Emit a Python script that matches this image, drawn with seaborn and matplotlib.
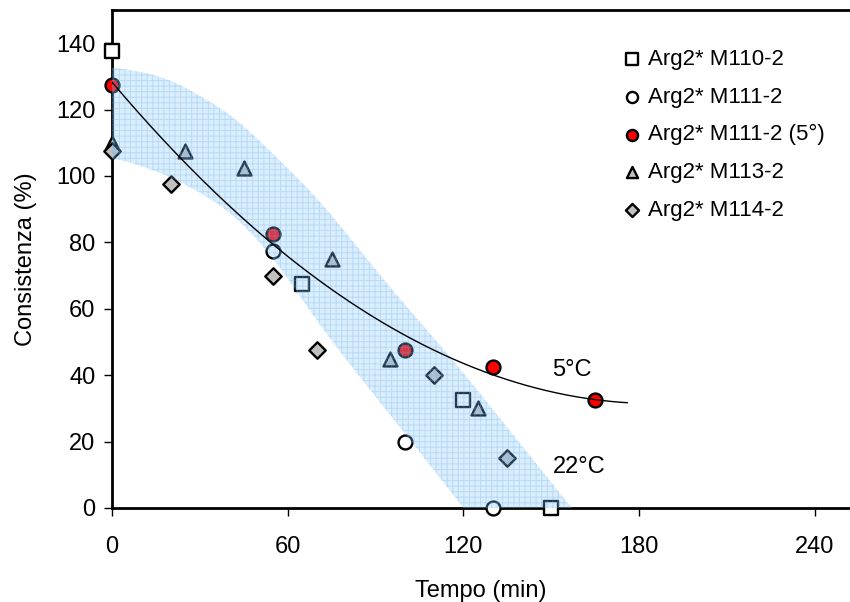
import numpy as np
import pandas as pd
import matplotlib
matplotlib.use("Agg")
import matplotlib.pyplot as plt
import seaborn as sns

# ---- data ----
m110_t = [0, 65, 120, 150]
m110_c = [137.5, 67.5, 32.5, 0]
m111_t = [55, 100, 130]
m111_c = [77.5, 20, 0]
m111_5_t = [0, 55, 100, 130, 165]
m111_5_c = [127.5, 82.5, 47.5, 42.5, 32.5]
m113_t = [0, 25, 45, 75, 95, 125]
m113_c = [110, 107.5, 102.5, 75, 45, 30]
m114_t = [0, 20, 55, 70, 110, 135]
m114_c = [107.5, 97.5, 70, 47.5, 40, 15]

band_up_t = [0, 18.6, 41.4, 64.1, 70.9, 93.7, 118.6, 157]
band_up_c = [133, 130, 118.4, 98.8, 92.8, 67.7, 42.3, 0]
band_lo_t = [0, 20, 40, 55, 70, 85, 100, 120]
band_lo_c = [106, 100, 90, 76, 56, 39, 22.5, 0]

x_ticks = [0, 60, 120, 180, 240]
y_ticks = [0, 20, 40, 60, 80, 100, 120, 140]

sns.set_theme(style="ticks")
plt.rcParams['font.family'] = ['Liberation Sans', 'DejaVu Sans']
plt.rcParams['hatch.linewidth'] = 0.7
plt.rcParams['text.color'] = 'black'
plt.rcParams['axes.labelcolor'] = 'black'

fig = plt.figure(figsize=(8.5, 6.02), dpi=100)
ax = fig.add_axes([112/850, 94/602, (850-112)/850, (508-10)/602])

ms = 100
common = dict(ax=ax, s=ms, linewidth=1.7, edgecolor='black', zorder=3, clip_on=False)
sns.scatterplot(x=m110_t, y=m110_c, marker='s', color='white', label='Arg2* M110-2', **common)
sns.scatterplot(x=m111_t, y=m111_c, marker='o', color='white', label='Arg2* M111-2', **common)
sns.scatterplot(x=m111_5_t, y=m111_5_c, marker='o', color='#ff0000', label='Arg2* M111-2 (5°)', **common)
sns.scatterplot(x=m113_t, y=m113_c, marker='^', color='#c0c0c0', label='Arg2* M113-2', **common)
sns.scatterplot(x=m114_t, y=m114_c, marker='D', color='#c0c0c0', label='Arg2* M114-2', s=70,
                linewidth=1.7, edgecolor='black', zorder=3, clip_on=False, ax=ax)

# shaded band (22°C): edges, lightly smoothed
def smooth(t, y, width=12.0):
    k = np.exp(-0.5 * ((np.arange(-60, 61) * (t[1] - t[0])) / (width / 2)) ** 2)
    k /= k.sum()
    pad = 60
    yp = np.concatenate([np.full(pad, y[0]), y, y[-1] + (y[-1] - y[-2]) * np.arange(1, pad + 1)])
    return np.convolve(yp, k, mode='same')[pad:-pad]

tt = np.linspace(0, 157, 500)
up = smooth(tt, np.interp(tt, band_up_t, band_up_c))
lo_raw = np.interp(tt, band_lo_t, band_lo_c, right=0)
lo = smooth(tt, np.where(tt <= 120, lo_raw, -1.1 * (tt - 120)))
up = np.clip(up, 0, None)
lo = np.clip(lo, 0, None)
ax.fill_between(tt, lo, up, facecolor=(0.50, 0.77, 0.97, 0.28), edgecolor=(0.40, 0.68, 0.97, 0.30),
                hatch='+++', linewidth=0, zorder=4)

# trend line (5°C)
coef = np.polyfit(m111_5_t, m111_5_c, 2)
tl = np.linspace(0, 176, 200)
sns.lineplot(x=tl, y=np.polyval(coef, tl), color='black', linewidth=1.0, ax=ax, zorder=5, legend=False)

ax.text(157, 41.5, '5°C', fontsize=17, ha='center', va='center', color='black')
ax.text(159.5, 12.3, '22°C', fontsize=17, ha='center', va='center', color='black')

ax.set_xlim(0, 252)
ax.set_ylim(0, 150)
ax.set_xticks(x_ticks)
ax.set_yticks(y_ticks)
ax.set_xticklabels([str(v) for v in x_ticks])
ax.set_yticklabels([str(v) for v in y_ticks])
ax.tick_params(axis='both', direction='out', length=6, width=1, labelsize=17, colors='black', pad=14)
ax.tick_params(axis='y', pad=6)
for s in ['left', 'bottom', 'top']:
    ax.spines[s].set_linewidth(2)
    ax.spines[s].set_color('black')
ax.spines['right'].set_visible(False)
ax.set_xlabel('Tempo (min)', fontsize=17, labelpad=16, color='black')
ax.set_ylabel('Consistenza (%)', fontsize=17, labelpad=14, color='black')

leg = ax.legend(loc='upper left', frameon=False, prop={'size': 16},
                markerscale=0.8, handletextpad=0.2, labelspacing=0.75, handlelength=1.0,
                borderaxespad=0)
for txt in leg.get_texts():
    txt.set_color('black')
leg.set_bbox_to_anchor((612/850, 1 - 40/602), transform=fig.transFigure)

fig.savefig('out.png', dpi=100)
